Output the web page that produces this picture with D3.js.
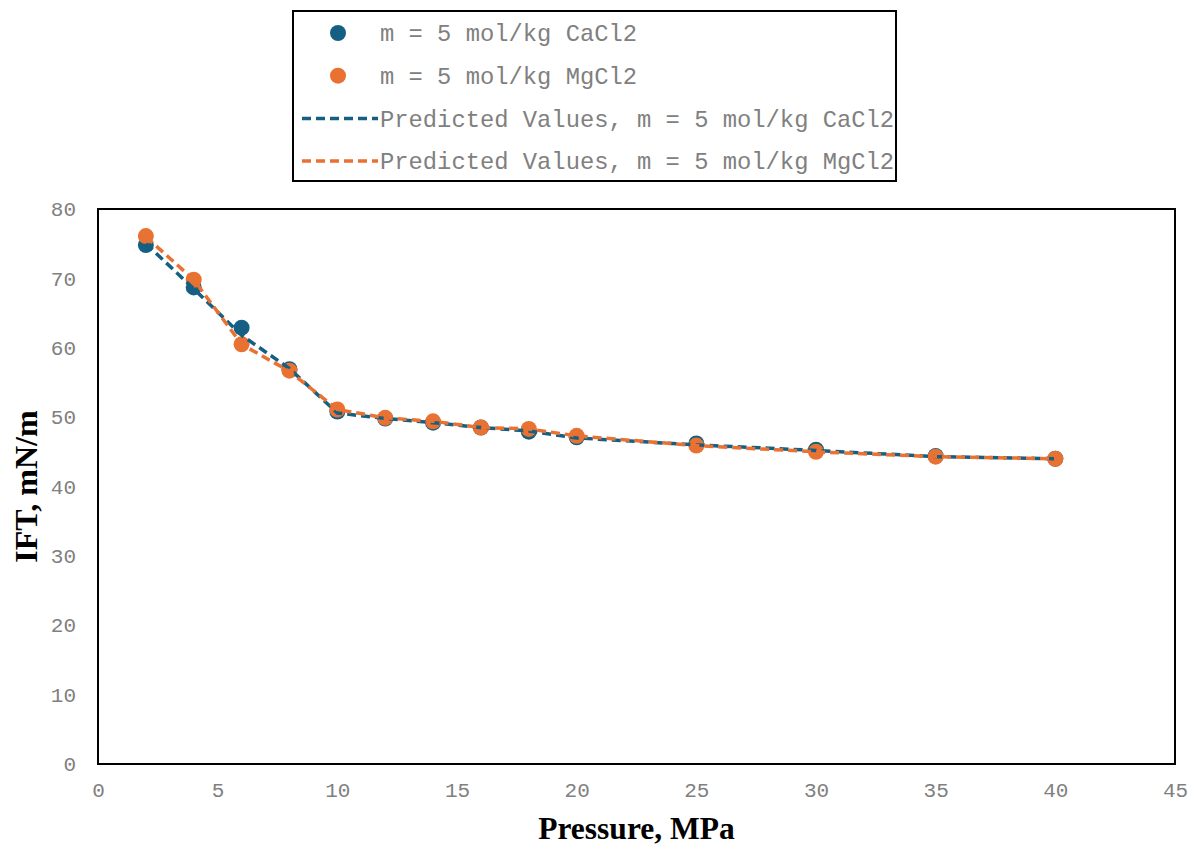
<!DOCTYPE html>
<html>
<head>
<meta charset="utf-8">
<script src="https://cdn.jsdelivr.net/npm/d3@7"></script>
<style>
  body { margin: 0; background: #fff; }
  svg { display: block; }
</style>
</head>
<body>
<div id="chart"></div>
<script>
// pressure (MPa)
const pressure = [2, 4, 6, 8, 10, 12, 14, 16, 18, 20, 25, 30, 35, 40];

// measured IFT (mN/m)
const cacl2 = [74.8, 68.7, 62.9, 56.9, 50.8, 49.8, 49.2, 48.5, 47.9, 47.1, 46.2, 45.3, 44.4, 44.0];
const mgcl2 = [76.1, 69.8, 60.5, 56.7, 51.1, 49.9, 49.4, 48.5, 48.3, 47.3, 45.9, 45.0, 44.3, 44.0];

// predicted IFT (mN/m)
const predCacl2 = [75.0, 68.5, 61.8, 57.0, 50.6, 49.8, 49.2, 48.5, 48.0, 47.0, 46.0, 45.2, 44.3, 44.0];
const predMgcl2 = [76.0, 69.8, 60.5, 56.6, 51.1, 49.9, 49.4, 48.5, 48.3, 47.3, 45.9, 45.0, 44.3, 44.0];

const xTicks = [0, 5, 10, 15, 20, 25, 30, 35, 40, 45];
const yTicks = [0, 10, 20, 30, 40, 50, 60, 70, 80];

const blue = "#156082";
const orange = "#e97132";

const width = 1190, height = 847;
const plot = { left: 98, top: 209, right: 1175, bottom: 764 };

const svg = d3.select("#chart")
    .append("svg")
    .attr("width", width)
    .attr("height", height);

const x = d3.scaleLinear().domain([0, 45]).range([plot.left, plot.right]);
const y = d3.scaleLinear().domain([0, 80]).range([plot.bottom, plot.top]);

// axes (labels only, no tick marks)
const xAxis = svg.append("g")
    .attr("transform", `translate(0,${plot.bottom})`)
    .call(d3.axisBottom(x).tickValues(xTicks).tickSize(0).tickPadding(18));
const yAxis = svg.append("g")
    .attr("transform", `translate(${plot.left},0)`)
    .call(d3.axisLeft(y).tickValues(yTicks).tickSize(0).tickPadding(22));

[xAxis, yAxis].forEach(g => {
    g.select(".domain").remove();
    g.selectAll("text")
        .attr("font-family", "'Liberation Mono', 'Courier New', monospace")
        .attr("font-size", "21px")
        .attr("fill", "#808080");
});

// frame
svg.append("rect")
    .attr("x", plot.left)
    .attr("y", plot.top)
    .attr("width", plot.right - plot.left)
    .attr("height", plot.bottom - plot.top)
    .attr("fill", "none")
    .attr("stroke", "#000")
    .attr("stroke-width", 2);

const line = d3.line()
    .x(d => x(d[0]))
    .y(d => y(d[1]));

const series = [
    { pts: cacl2, pred: predCacl2, color: blue },
    { pts: mgcl2, pred: predMgcl2, color: orange }
];

// dots drawn first, then dashed lines on top (as in reference)
series.forEach(s => {
    svg.append("g")
        .selectAll("circle")
        .data(pressure.map((p, i) => [p, s.pts[i]]))
        .enter()
        .append("circle")
        .attr("cx", d => x(d[0]))
        .attr("cy", d => y(d[1]))
        .attr("r", 8)
        .attr("fill", s.color);
});

series.forEach(s => {
    svg.append("path")
        .datum(pressure.map((p, i) => [p, s.pred[i]]))
        .attr("d", line)
        .attr("fill", "none")
        .attr("stroke", s.color)
        .attr("stroke-width", 3.5)
        .attr("stroke-dasharray", "9,5");
});

// axis titles
svg.append("text")
    .attr("x", (plot.left + plot.right) / 2)
    .attr("y", 839)
    .attr("text-anchor", "middle")
    .attr("font-family", "'Liberation Serif', 'Times New Roman', serif")
    .attr("font-weight", "bold")
    .attr("font-size", "31.5px")
    .text("Pressure, MPa");

svg.append("text")
    .attr("transform", `translate(37,${(plot.top + plot.bottom) / 2}) rotate(-90)`)
    .attr("text-anchor", "middle")
    .attr("font-family", "'Liberation Serif', 'Times New Roman', serif")
    .attr("font-weight", "bold")
    .attr("font-size", "32px")
    .text("IFT, mN/m");

// legend
const legendItems = [
    { label: "m = 5 mol/kg CaCl2", color: blue, type: "dot" },
    { label: "m = 5 mol/kg MgCl2", color: orange, type: "dot" },
    { label: "Predicted Values, m = 5 mol/kg CaCl2", color: blue, type: "line" },
    { label: "Predicted Values, m = 5 mol/kg MgCl2", color: orange, type: "line" }
];

const legend = svg.append("g");
legend.append("rect")
    .attr("x", 293)
    .attr("y", 11)
    .attr("width", 603)
    .attr("height", 170)
    .attr("fill", "#fff")
    .attr("stroke", "#000")
    .attr("stroke-width", 2);

legendItems.forEach((item, i) => {
    const cy = 33 + i * 42.7;
    const g = legend.append("g");
    if (item.type === "dot") {
        g.append("circle")
            .attr("cx", 338)
            .attr("cy", cy)
            .attr("r", 8)
            .attr("fill", item.color);
    } else {
        g.append("line")
            .attr("x1", 302)
            .attr("x2", 378)
            .attr("y1", cy)
            .attr("y2", cy)
            .attr("stroke", item.color)
            .attr("stroke-width", 3.5)
            .attr("stroke-dasharray", "9,5");
    }
    g.append("text")
        .attr("x", 380)
        .attr("y", cy)
        .attr("dy", "0.35em")
        .attr("font-family", "'Liberation Mono', 'Courier New', monospace")
        .attr("font-size", "23.8px")
        .attr("fill", "#808080")
        .text(item.label);
});
</script>
</body>
</html>
